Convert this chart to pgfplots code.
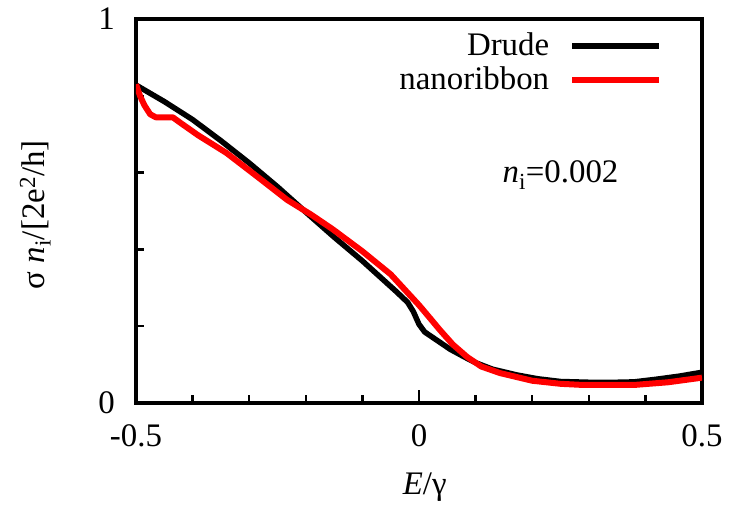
\documentclass[border=0pt]{standalone}
\usepackage{fontspec}
\setmainfont{Liberation Serif}
\newfontfamily\lser{Liberation Serif}
\usepackage{pgfplots}
\pgfplotsset{compat=1.18}
\usetikzlibrary{calc}
\newcommand{\bigf}{\lser\fontsize{33}{38}\selectfont}
\begin{document}
\bigf
\begin{tikzpicture}
\begin{axis}[name=ax, scale only axis, width=566bp, height=384bp,
  xmin=-0.5, xmax=0.5, ymin=0, ymax=1,
  xtick={-0.5,0,0.5}, xticklabels={-0.5,0,0.5},
  minor xtick={-0.4,-0.3,-0.2,-0.1,0.1,0.2,0.3,0.4},
  ytick={0,1}, yticklabels={0,1},
  minor ytick={0.2,0.4,0.6,0.8},
  tick pos=left, tick align=inside,
  major tick length=13bp, minor tick length=8bp,
  tick style={black, line width=2.5bp},
  axis line style={line width=3.5bp},
  tick label style={font=\bigf},
  xticklabel style={yshift=-10bp},
  yticklabel style={xshift=-10bp},
  label style={font=\bigf},
  xlabel={\textit{E}/γ},
  xlabel style={at={(axis description cs:0.51,-0.219)}, anchor=center},
  ylabel={σ \textit{n}\textsubscript{i}/[2e\textsuperscript{2}/h]},
  ylabel style={at={(axis description cs:-0.178,0.49)}, anchor=center},
  legend plot pos=right,
  legend cell align=right,
  legend style={at={(axis description cs:0.93,0.97)}, anchor=north east,
    draw=none, fill=none, inner sep=0pt, font=\bigf, column sep=19bp,
    nodes={inner sep=1bp, text height=24bp, text depth=8bp}},
  legend image code/.code={\draw[#1] (0bp,1.5bp) -- (87bp,1.5bp);},
]
\addplot[black, line width=5.5bp, line join=round] coordinates {
(-0.5,0.828) (-0.45,0.785) (-0.4,0.738) (-0.35,0.683) (-0.3,0.625)
(-0.25,0.563) (-0.2,0.497) (-0.15,0.432) (-0.1,0.37) (-0.064,0.322)
(-0.04,0.29) (-0.02,0.262) (-0.01,0.238) (0.0,0.205) (0.01,0.185)
(0.03,0.165) (0.055,0.14) (0.08,0.12) (0.1,0.105) (0.13,0.088)
(0.173,0.073) (0.21,0.063) (0.25,0.056) (0.3,0.054) (0.35,0.054)
(0.38,0.055) (0.42,0.062) (0.46,0.07) (0.5,0.08)};
\addlegendentry{Drude}
\addplot[red, line width=6bp, line join=round] coordinates {
(-0.5,0.83) (-0.493,0.8) (-0.485,0.775) (-0.475,0.752) (-0.465,0.744)
(-0.435,0.744) (-0.42,0.728) (-0.39,0.697) (-0.34,0.651) (-0.28,0.583)
(-0.233,0.529) (-0.19,0.49) (-0.152,0.452) (-0.1,0.395) (-0.05,0.335)
(-0.025,0.295) (0.0,0.255) (0.02,0.22) (0.037,0.19) (0.06,0.152)
(0.085,0.12) (0.11,0.095) (0.143,0.078) (0.2,0.058) (0.25,0.05)
(0.29,0.047) (0.38,0.047) (0.44,0.054) (0.5,0.066)};
\addlegendentry{nanoribbon}
\node[font=\bigf, anchor=center] at (axis cs:0.25,0.594) {\textit{n}\textsubscript{i}=0.002};
\end{axis}
\pgfresetboundingbox
\path[use as bounding box] ($(ax.south west)+(-136bp,-102bp)$) rectangle ($(ax.north east)+(27bp,19bp)$);
\end{tikzpicture}
\end{document}
